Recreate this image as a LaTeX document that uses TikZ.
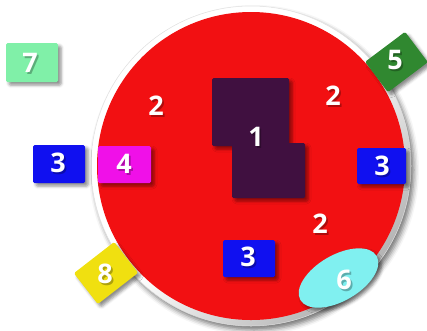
\documentclass[tikz,border=0pt]{standalone}
\usepackage{fontspec}
\setsansfont{Open Sans}
\usetikzlibrary{shadows.blur,calc}
\definecolor{cred}{RGB}{242,16,18}
\definecolor{cpurple}{RGB}{64,16,64}
\definecolor{cblue}{RGB}{16,16,240}
\definecolor{cmag}{RGB}{240,16,232}
\definecolor{cgreen}{RGB}{48,136,48}
\definecolor{clgreen}{RGB}{128,240,168}
\definecolor{cyellow}{RGB}{240,224,16}
\definecolor{ccyan}{RGB}{128,240,240}
\begin{document}
\begin{tikzpicture}[x=1pt,y=-1pt,
  bsh/.style={blur shadow={shadow xshift=3pt,shadow yshift=-3pt,shadow blur radius=3pt,shadow opacity=45}},
  box/.style={bsh,rounded corners=1.5pt,inner sep=0pt,draw=none},
  num/.style={text=white,font=\sffamily\bfseries\fontsize{27}{27}\selectfont,inner sep=0pt},
  numsh/.style={text=black,opacity=0.28,font=\sffamily\bfseries\fontsize{27}{27}\selectfont,inner sep=0pt}]
\useasboundingbox (0,0) rectangle (427,330);
\newcommand{\numlbl}[4]{\node[numsh] at ($(#2,#3)+(1.8,1.8)$) {#4};\node[num] (#1) at (#2,#3) {#4};}
% outer rim
\shade[top color=white,bottom color=black!30,middle color=white,shading angle=45,
  blur shadow={shadow xshift=3pt,shadow yshift=-4pt,shadow blur radius=5pt,shadow opacity=55}]
  (251,166) circle (160);
\draw[black!12,line width=0.5pt] (251,166) circle (160);
% red disk
\fill[cred] (251,166) circle (154);
% box 7
\node[box,fill=clgreen,minimum width=52pt,minimum height=39pt] (b7) at (32,62.5) {};
\numlbl{t7}{30}{63}{7}
% twos
\numlbl{t2a}{156}{106}{2}
\numlbl{t2b}{333}{96}{2}
\numlbl{t2c}{320}{224}{2}
% purple rects
\node[box,fill=cpurple,minimum width=77pt,minimum height=68pt] (ra) at (250.5,112) {};
\node[box,fill=cpurple,minimum width=73pt,minimum height=55pt] (rb) at (268.5,170.5) {};
\numlbl{t1}{256}{137}{1}
% blue boxes and magenta
\node[box,fill=cblue,minimum width=52pt,minimum height=38pt] (b3a) at (59,164) {};
\numlbl{t3a}{58}{163}{3}
\node[box,fill=cmag,minimum width=53pt,minimum height=37pt] (b4) at (124.5,164.5) {};
\numlbl{t4}{124}{164}{4}
\node[box,fill=cblue,minimum width=49pt,minimum height=36pt] (b3b) at (381.5,166) {};
\numlbl{t3b}{382}{166}{3}
\node[box,fill=cblue,minimum width=52pt,minimum height=37pt] (b3c) at (249,258.5) {};
\numlbl{t3c}{248}{257}{3}
% rotated boxes
\node[box,fill=cgreen,minimum width=50pt,minimum height=38pt,rotate=36.9] (b5) at (396.5,62) {};
\numlbl{t5}{395}{60}{5}
\node[box,fill=cyellow,minimum width=51pt,minimum height=39pt,rotate=37.8] (b8) at (106,273) {};
\numlbl{t8}{105}{274}{8}
% ellipse 6
\fill[ccyan,bsh,rotate around={30:(338.5,278)}] (338.5,278) ellipse (44 and 23);
\numlbl{t6}{344}{280}{6}
\end{tikzpicture}
\end{document}
